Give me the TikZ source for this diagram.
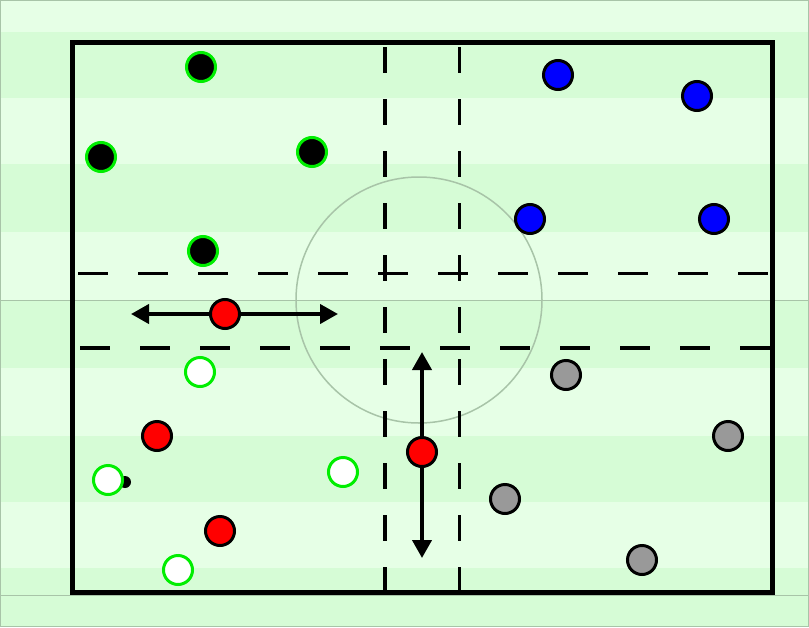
\documentclass[tikz,border=0pt]{standalone}
\usetikzlibrary{arrows.meta}
\definecolor{lightg}{HTML}{E6FFE6}
\definecolor{darkg}{HTML}{D6FCD6}
\definecolor{edgeg}{HTML}{A8C4A8}
\definecolor{pgreen}{HTML}{00EE00}
\tikzset{
  player/.style={circle,line width=3pt,minimum size=29pt,inner sep=0pt},
  blk/.style={player,draw=pgreen,fill=black},
  blu/.style={player,draw=black,fill=blue},
  redp/.style={player,draw=black,fill=red},
  wht/.style={player,draw=pgreen,fill=white},
  gry/.style={player,draw=black,fill=black!40},
  ballp/.style={circle,fill=black,minimum size=12pt,inner sep=0pt},
  hzone/.style={line width=3.5pt,dash pattern=on 30pt off 30pt},
  vzone/.style={line width=3.5pt,dash pattern=on 26pt off 26pt},
  runarrow/.style={line width=4pt,-{Triangle[length=18pt,width=19pt]}}
}
\begin{document}
\begin{tikzpicture}[x=1pt,y=-1pt]
\useasboundingbox (0,0) rectangle (809,627);
% stripes
\fill[lightg] (0,0) rectangle (809,627);
\foreach \a/\b in {32/98,164/232,300/368,436/502,568/627}
  \fill[darkg] (0,\a) rectangle (809,\b);
% outer lines
\draw[edgeg,line width=1pt] (0.5,0.5) rectangle (808.5,626.5);
\draw[edgeg,line width=1pt] (0,300) -- (809,300);
\draw[edgeg,line width=1pt] (0,595) -- (809,595);
% centre circle
\draw[edgeg,line width=1.5pt] (419,300) circle (123);
% zone lines
\draw[hzone] (78,273.5) -- (770,273.5);
\draw[hzone] (80,348) -- (770,348);
\draw[vzone] (385,47) -- (385,592);
\draw[vzone] (459.5,47) -- (459.5,592);
% pitch
\draw[line width=5pt] (72.5,42.5) rectangle (772.5,592);
% ball
\node[ballp] (ball) at (125,482) {};
% black/green team
\node[blk] (k1) at (201,67) {};
\node[blk] (k2) at (101,157) {};
\node[blk] (k3) at (312,152) {};
\node[blk] (k4) at (203,251) {};
% blue team
\node[blu] (b1) at (558,75) {};
\node[blu] (b2) at (697,96) {};
\node[blu] (b3) at (530,219) {};
\node[blu] (b4) at (714,219) {};
% arrows
\coordinate (hl) at (131,314);
\coordinate (hr) at (338,314);
\coordinate (vt) at (422,352);
\coordinate (vb) at (422,558);
\coordinate (r1c) at (225,314);
\coordinate (r4c) at (422,452);
\draw[runarrow] (r1c) -- (hl);
\draw[runarrow] (r1c) -- (hr);
\draw[runarrow] (r4c) -- (vt);
\draw[runarrow] (r4c) -- (vb);
% red team
\node[redp] (r1) at (r1c) {};
\node[redp] (r2) at (157,436) {};
\node[redp] (r3) at (220,531) {};
\node[redp] (r4) at (r4c) {};
% white team
\node[wht] (w1) at (200,372) {};
\node[wht] (w2) at (343,472) {};
\node[wht] (w3) at (108,480) {};
\node[wht] (w4) at (178,570) {};
% grey team
\node[gry] (g1) at (566,375) {};
\node[gry] (g2) at (728,436) {};
\node[gry] (g3) at (505,499) {};
\node[gry] (g4) at (642,560) {};
\end{tikzpicture}
\end{document}
